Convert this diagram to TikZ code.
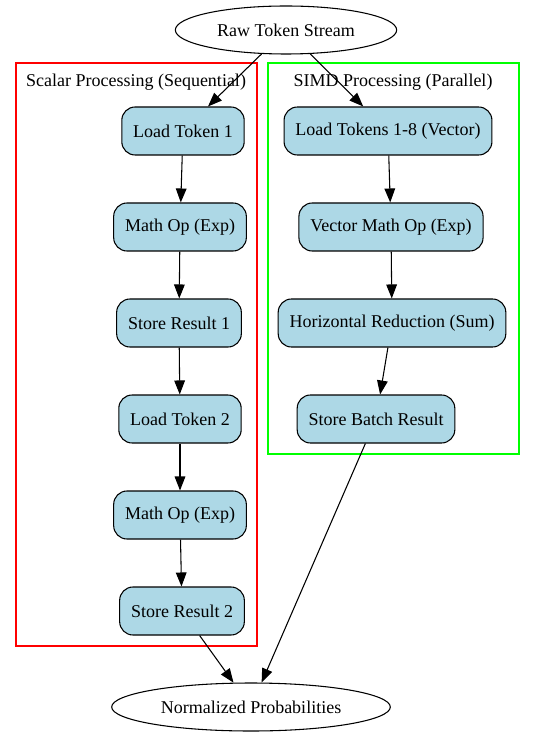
\documentclass[tikz,border=0pt]{standalone}
\usepackage{fontspec}
\setmainfont{Liberation Serif}
\usetikzlibrary{arrows.meta,shapes.geometric}
\definecolor{lightblue}{RGB}{173,216,230}
\tikzset{
    stage/.style={draw=black, fill=lightblue, rounded corners=10pt, line width=0.8pt,
        minimum height=36pt, inner xsep=8.5pt, font=\fontsize{13.5}{16}\selectfont},
    terminal/.style={draw=black, ellipse, line width=0.8pt, minimum height=36pt,
        inner sep=2pt, font=\fontsize{13.5}{16}\selectfont},
    flow/.style={-{Triangle[length=10.5pt,width=8pt]}, line width=0.8pt},
    cluster/.style={line width=0.8pt}
}
\begin{document}
\begin{tikzpicture}[x=0.75pt, y=-0.75pt]
        \useasboundingbox (0,0) rectangle (535,737);
        \draw[cluster, red] (16,63) rectangle (257,646);
        \draw[cluster, green] (268,63) rectangle (519,454);
        \node[font=\fontsize{13.5}{16}\selectfont] (scalarlabel) at (136,82) {Scalar Processing (Sequential)};
        \node[font=\fontsize{13.5}{16}\selectfont] (simdlabel) at (393,82) {SIMD Processing (Parallel)};
        \node[terminal, minimum width=166pt] (raw) at (286,30) {Raw Token Stream};
        \node[terminal, minimum width=209pt] (norm) at (251,707) {Normalized Probabilities};
        \foreach \n/\x/\y/\t in {lta/183/131/Load Token 1, moa/180/227/Math Op (Exp),
                sra/179/323/Store Result 1, ltb/180/419/Load Token 2,
                mob/180/515/Math Op (Exp), srb/182/611/Store Result 2,
                ltv/388/131/Load Tokens 1-8 (Vector), mov/391/227/Vector Math Op (Exp),
                hred/392/323/Horizontal Reduction (Sum), sbr/376/419/Store Batch Result} {
                \node[stage] (\n) at (\x,\y) {\t};
            }
        \foreach \a/\b in {raw/lta, raw/ltv, lta/moa, moa/sra, sra/ltb, ltb/mob, mob/srb,
                ltv/mov, mov/hred, hred/sbr, srb/norm, sbr/norm} {
                \draw[flow] (\a) -- (\b);
            }
    \end{tikzpicture}
\end{document}
